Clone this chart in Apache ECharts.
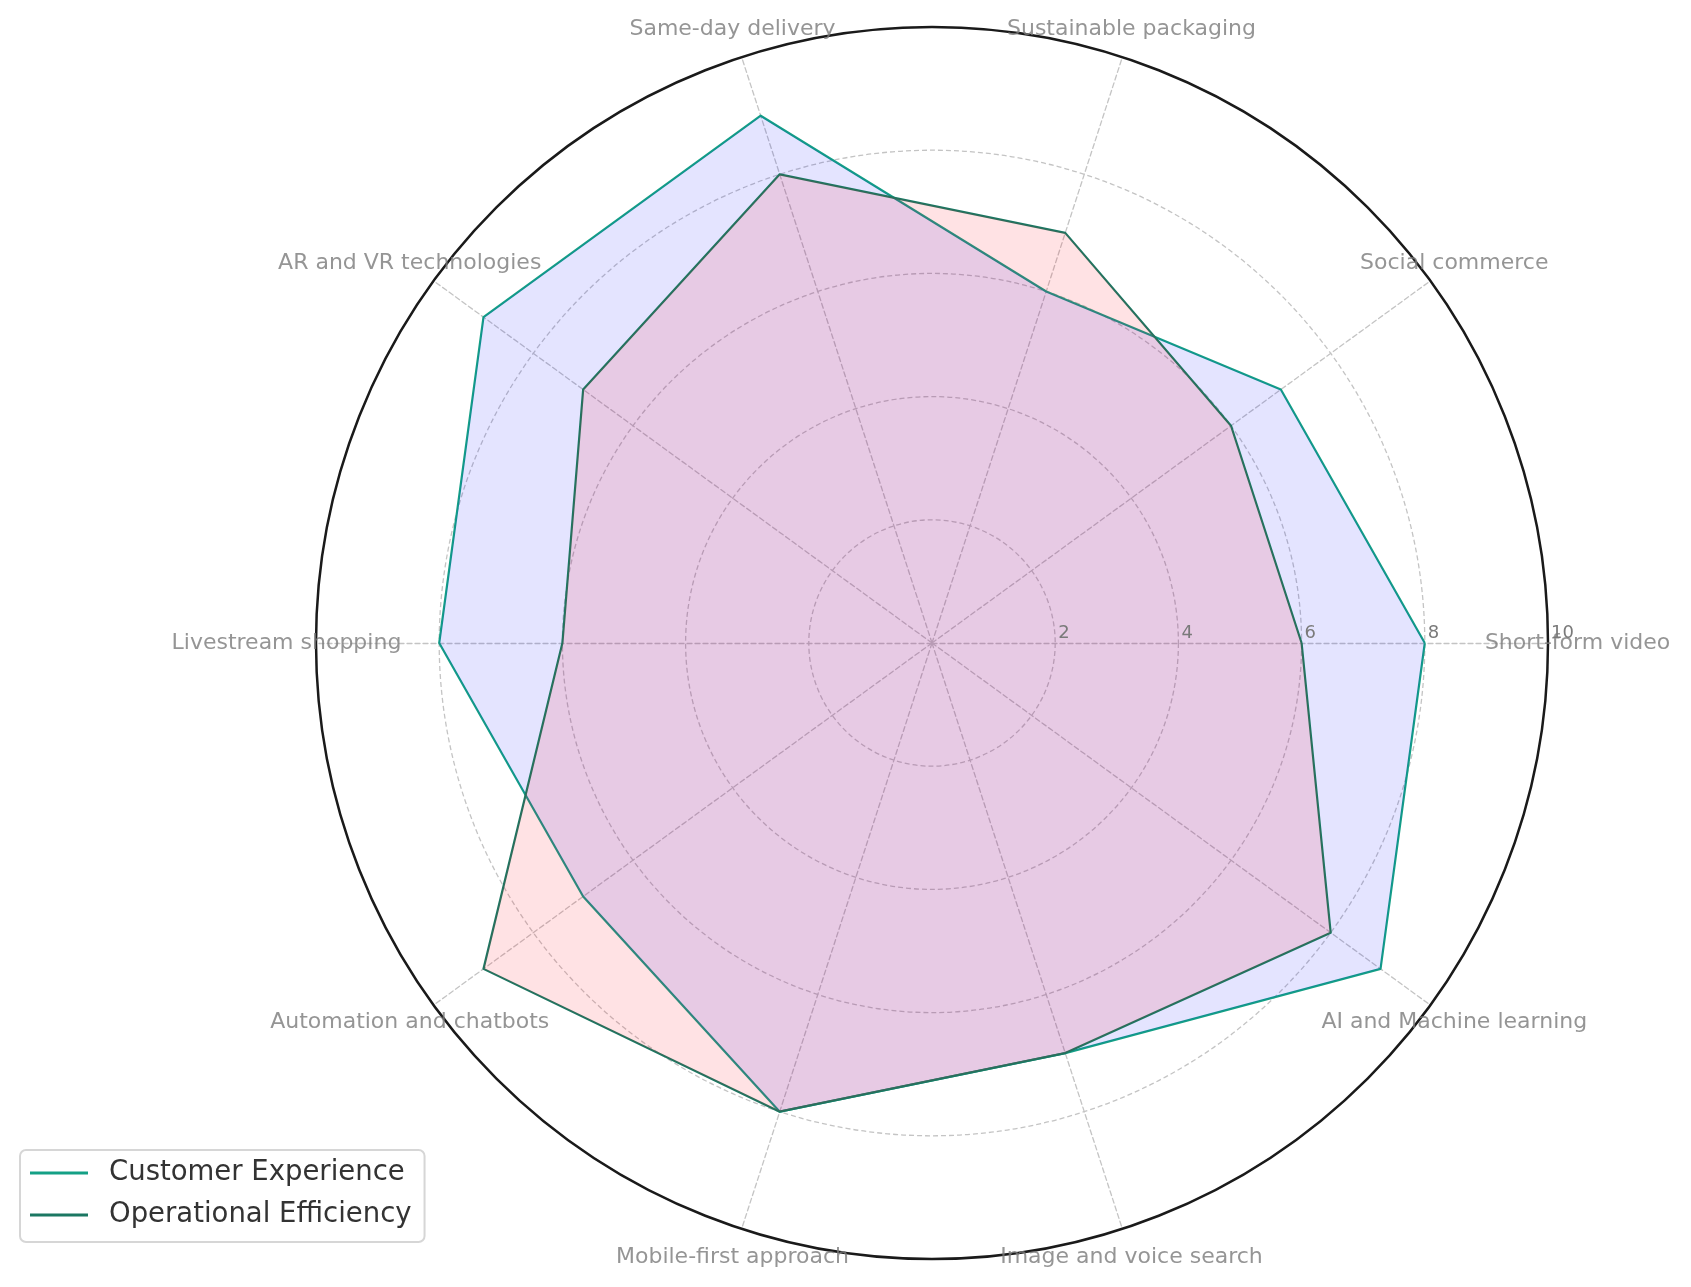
<!DOCTYPE html>
<html>
<head>
<meta charset="utf-8">
<script src="https://cdn.jsdelivr.net/npm/echarts@6/dist/echarts.min.js"></script>
<style>
  html, body { margin: 0; padding: 0; background: #fff; }
  #chart { width: 1691px; height: 1287px; }
</style>
</head>
<body>
<div id="chart"></div>
<script>
// categories go counter-clockwise starting at 3 o'clock
var categories = [
    'Short-form video',
    'Social commerce',
    'Sustainable packaging',
    'Same-day delivery',
    'AR and VR technologies',
    'Livestream shopping',
    'Automation and chatbots',
    'Mobile-first approach',
    'Image and voice search',
    'AI and Machine learning'
];
var customerExperience = [8, 7, 6, 9, 9, 8, 7, 8, 7, 9];
var operationalEfficiency = [6, 6, 7, 8, 7, 6, 9, 8, 7, 8];
var seriesNames = ['Customer Experience', 'Operational Efficiency'];
var radialMax = 10;
var radialStep = 2;

var CENTER = [932, 643];
var RADIUS = 616;
var LABEL_R = 10.48;
var FONT = 'DejaVu Sans';
var GRID = { color: '#c4c4c4', width: 1.3, type: [5, 3] };

var chart = echarts.init(document.getElementById('chart'));

var option = {
    backgroundColor: '#fff',
    animation: false,
    legend: {
        orient: 'vertical',
        left: 20,
        top: 1150,
        padding: [7, 13, 11, 10],
        itemWidth: 58,
        itemHeight: 3,
        itemGap: 10,
        icon: 'rect',
        backgroundColor: '#fff',
        borderColor: '#d6d6d6',
        borderWidth: 2,
        borderRadius: 6,
        data: seriesNames,
        textStyle: {
            fontFamily: FONT,
            fontSize: 27.5,
            color: '#333',
            lineHeight: 32,
            padding: [0, 0, 0, 16]
        }
    },
    radar: {
        center: CENTER,
        radius: RADIUS,
        startAngle: 0,
        shape: 'circle',
        splitNumber: radialMax / radialStep,
        indicator: categories.map(function (c) {
            return { name: c, min: 0, max: radialMax };
        }),
        axisName: { show: false },
        axisLine: { lineStyle: GRID },
        splitLine: { lineStyle: GRID },
        splitArea: { show: false },
        axisTick: { show: false },
        axisLabel: { show: false }
    },
    // polar 0: outer frame circle + radial tick labels
    // polar 1: category names placed by the category angle axis
    polar: [
        { center: CENTER, radius: RADIUS },
        { center: CENTER, radius: RADIUS }
    ],
    angleAxis: [
        {
            polarIndex: 0,
            type: 'value',
            min: 0,
            max: 360,
            startAngle: 0,
            axisLine: { show: true, lineStyle: { color: '#1a1a1a', width: 2.5 } },
            axisTick: { show: false },
            axisLabel: { show: false },
            splitLine: { show: false },
            z: 5
        },
        {
            polarIndex: 1,
            type: 'category',
            data: categories,
            startAngle: 0,
            clockwise: false,
            boundaryGap: false,
            axisLine: { show: false },
            axisTick: { show: false },
            axisLabel: { show: false },
            splitLine: { show: false }
        }
    ],
    radiusAxis: [
        {
            polarIndex: 0,
            type: 'value',
            min: 0,
            max: radialMax,
            interval: radialStep,
            axisLine: { show: false },
            axisTick: { show: false },
            splitLine: { show: false },
            axisLabel: {
                showMinLabel: false,
                align: 'left',
                verticalAlign: 'bottom',
                margin: 1,
                padding: [0, 0, 0, 3],
                fontFamily: FONT,
                fontSize: 18,
                color: '#7a7a7a'
            },
            z: 10
        },
        {
            polarIndex: 1,
            type: 'value',
            min: 0,
            max: radialMax,
            show: false
        }
    ],
    series: [
        {
            type: 'radar',
            symbol: 'none',
            data: [
                {
                    name: seriesNames[0],
                    value: customerExperience,
                    itemStyle: { color: '#14a085' },
                    lineStyle: { color: '#14a085', width: 2.2 },
                    areaStyle: { color: 'rgba(0, 0, 255, 0.106)', opacity: 1 }
                },
                {
                    name: seriesNames[1],
                    value: operationalEfficiency,
                    itemStyle: { color: '#1b7762' },
                    lineStyle: { color: '#1b7762', width: 2.2 },
                    areaStyle: { color: 'rgba(255, 13, 30, 0.12)', opacity: 1 }
                }
            ]
        },
        {
            // category names, centred just outside the outer ring
            type: 'scatter',
            coordinateSystem: 'polar',
            polarIndex: 1,
            clip: false,
            silent: true,
            symbolSize: 0,
            data: categories.map(function (c) { return [LABEL_R, c]; }),
            label: {
                show: true,
                position: 'inside',
                align: 'center',
                verticalAlign: 'middle',
                fontFamily: FONT,
                fontSize: 22,
                color: '#7a7a7a',
                formatter: function (p) { return categories[p.dataIndex]; }
            },
            z: 20
        }
    ]
};

chart.setOption(option);
</script>
</body>
</html>
